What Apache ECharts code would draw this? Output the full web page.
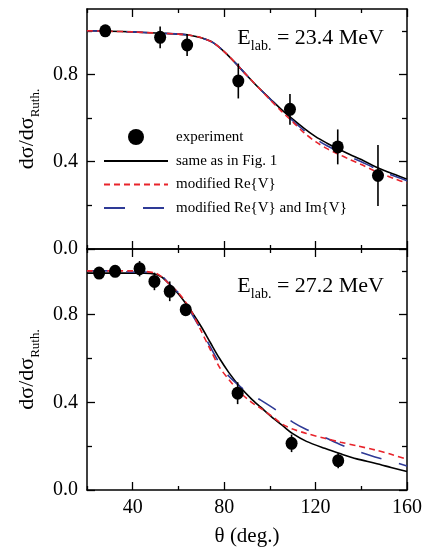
<!DOCTYPE html>
<html>
<head>
  <meta charset="UTF-8">
  <title>dσ/dσRuth</title>
  <script src="https://cdn.jsdelivr.net/npm/echarts@6/dist/echarts.min.js"></script>
  <style>
    html, body { margin: 0; padding: 0; background: #fff; }
  </style>
</head>
<body>
  <div id="chart" style="width: 429px; height: 557px;"></div>
  <script>
    // tick positions
    const xMajor = [40, 80, 120, 160];
    const xMinor = [20, 60, 100, 140];
    const yMajor = [0, 0.4, 0.8];
    const yMinor = [0.2, 0.6, 1.0];

    // upper panel, E = 23.4 MeV
    const thetaTop = [20, 30, 40, 50, 60, 65, 70, 75, 80, 85, 90, 95, 100, 105, 110, 115, 120, 125, 130, 135, 140, 145, 150, 155, 160];
    const sameTop  = [1.0, 0.998, 0.995, 0.99, 0.985, 0.98, 0.968, 0.947, 0.905, 0.852, 0.795, 0.74, 0.69, 0.64, 0.595, 0.553, 0.515, 0.485, 0.458, 0.433, 0.41, 0.383, 0.36, 0.34, 0.32];
    const reTop    = [1.0, 0.998, 0.995, 0.99, 0.985, 0.98, 0.968, 0.947, 0.905, 0.852, 0.795, 0.74, 0.685, 0.632, 0.583, 0.532, 0.492, 0.46, 0.435, 0.41, 0.387, 0.362, 0.34, 0.32, 0.302];
    const reImTop  = [1.0, 0.998, 0.995, 0.99, 0.985, 0.98, 0.968, 0.947, 0.905, 0.852, 0.795, 0.74, 0.688, 0.636, 0.588, 0.543, 0.505, 0.473, 0.447, 0.422, 0.4, 0.375, 0.352, 0.332, 0.313];
    const expTopTheta = [28, 52, 63.8, 86.2, 108.8, 129.7, 147.3];
    const expTopVal   = [1.0, 0.97, 0.935, 0.77, 0.64, 0.468, 0.337];
    const expTopErr   = [0.01, 0.05, 0.05, 0.08, 0.07, 0.08, 0.14];

    // lower panel, E = 27.2 MeV
    const thetaBot = [20, 30, 40, 45, 50, 53, 56, 60, 63, 66, 70, 74, 78, 82, 87, 92, 96, 102, 106, 110, 116, 124, 131, 138, 146, 153, 160];
    const sameBot  = [0.99, 0.99, 0.99, 0.99, 0.985, 0.97, 0.94, 0.895, 0.855, 0.81, 0.745, 0.672, 0.6, 0.537, 0.47, 0.415, 0.378, 0.323, 0.29, 0.257, 0.222, 0.19, 0.165, 0.142, 0.122, 0.103, 0.084];
    const reBot    = [1.0, 1.0, 1.0, 0.998, 0.99, 0.97, 0.94, 0.9, 0.86, 0.81, 0.725, 0.64, 0.56, 0.505, 0.445, 0.4, 0.373, 0.328, 0.297, 0.278, 0.258, 0.236, 0.218, 0.202, 0.183, 0.163, 0.14];
    const reImBot  = [1.0, 1.0, 0.995, 0.995, 0.99, 0.975, 0.94, 0.9, 0.858, 0.8, 0.73, 0.652, 0.578, 0.52, 0.472, 0.435, 0.41, 0.37, 0.34, 0.31, 0.276, 0.24, 0.207, 0.178, 0.151, 0.131, 0.11];
    const expBotTheta = [25.3, 32.3, 43, 49.5, 56.2, 63.2, 85.9, 109.5, 129.9];
    const expBotVal   = [0.99, 0.998, 1.01, 0.952, 0.907, 0.823, 0.442, 0.213, 0.134];
    const expBotErr   = [0.01, 0.01, 0.035, 0.04, 0.045, 0.02, 0.05, 0.04, 0.035];

    const FONT = '"Liberation Serif", "DejaVu Serif", serif';
    const RED = '#e8232b';
    const BLUE = '#2e3a96';
    const LINE_W = 1.6;

    const yName = 'dσ/dσ{sub|Ruth.}';
    const nameRich = { sub: { fontSize: 13, fontFamily: FONT, lineHeight: 30, verticalAlign: 'bottom', color: '#000' } };

    function xAxesFor(grid, showLabels) {
      const base = {
        type: 'value', gridIndex: grid, min: 20, max: 160,
        axisLine: { onZero: false, lineStyle: { color: '#000', width: 1.5 } },
        splitLine: { show: false }
      };
      const out = [];
      ['bottom', 'top'].forEach(pos => {
        out.push(Object.assign({}, base, {
          position: pos,
          axisTick: { inside: true, length: 4, customValues: xMinor, lineStyle: { color: '#000', width: 1.3 } },
          axisLabel: { show: false }
        }));
        const major = Object.assign({}, base, {
          position: pos,
          axisLine: { show: false, onZero: false },
          axisTick: { inside: true, length: 8, customValues: xMajor, lineStyle: { color: '#000', width: 1.3 } },
          axisLabel: { show: false }
        });
        if (pos === 'bottom' && showLabels) {
          major.axisLabel = { show: true, customValues: xMajor, margin: 8, fontFamily: FONT, fontSize: 20, color: '#000' };
          major.name = 'θ (deg.)';
          major.nameLocation = 'middle';
          major.nameGap = 36;
          major.nameTextStyle = { fontFamily: FONT, fontSize: 21, color: '#000' };
        }
        out.push(major);
      });
      return out;
    }

    function yAxesFor(grid) {
      const base = {
        type: 'value', gridIndex: grid, min: 0, max: 1.1,
        axisLine: { onZero: false, lineStyle: { color: '#000', width: 1.5 } },
        splitLine: { show: false }
      };
      const out = [];
      ['left', 'right'].forEach(pos => {
        out.push(Object.assign({}, base, {
          position: pos,
          axisTick: { inside: true, length: 5, customValues: yMinor, lineStyle: { color: '#000', width: 1.3 } },
          axisLabel: { show: false }
        }));
        const major = Object.assign({}, base, {
          position: pos,
          axisLine: { show: false, onZero: false },
          axisTick: { inside: true, length: 8, customValues: yMajor, lineStyle: { color: '#000', width: 1.3 } },
          axisLabel: { show: false }
        });
        if (pos === 'left') {
          major.axisLabel = {
            show: true, customValues: yMajor, margin: 9, fontFamily: FONT, fontSize: 20, color: '#000',
            formatter: v => v.toFixed(1)
          };
          major.name = yName;
          major.nameLocation = 'middle';
          major.nameRotate = 90;
          major.nameGap = 44;
          major.nameTextStyle = { fontFamily: FONT, fontSize: 22, color: '#000', rich: nameRich };
        }
        out.push(major);
      });
      return out;
    }

    function pairs(xs, ys) { return xs.map((x, i) => [x, ys[i]]); }

    function panelSeries(xi, yi, theta, same, re, reIm, eT, eV, eE) {
      return [
        {
          name: 'same as in Fig. 1', type: 'line', xAxisIndex: xi, yAxisIndex: yi,
          data: pairs(theta, same), smooth: 0.3, symbol: 'none',
          lineStyle: { color: '#000', width: LINE_W }, itemStyle: { color: '#000' }, z: 2
        },
        {
          name: 'modified Re{V} and Im{V}', type: 'line', xAxisIndex: xi, yAxisIndex: yi,
          data: pairs(theta, reIm), smooth: 0.3, symbol: 'none',
          lineStyle: { color: BLUE, width: LINE_W, type: [21, 18] }, itemStyle: { color: BLUE }, z: 3
        },
        {
          name: 'modified Re{V}', type: 'line', xAxisIndex: xi, yAxisIndex: yi,
          data: pairs(theta, re), smooth: 0.3, symbol: 'none',
          lineStyle: { color: RED, width: LINE_W, type: [6, 4] }, itemStyle: { color: RED }, z: 4
        },
        {
          name: 'errorbars', type: 'custom', xAxisIndex: xi, yAxisIndex: yi, silent: true,
          data: eT.map((t, i) => [t, eV[i] - eE[i], eV[i] + eE[i]]),
          encode: { x: 0, y: [1, 2] },
          renderItem: (params, api) => {
            const a = api.coord([api.value(0), api.value(1)]);
            const b = api.coord([api.value(0), api.value(2)]);
            return { type: 'line', shape: { x1: a[0], y1: a[1], x2: b[0], y2: b[1] }, style: { stroke: '#000', lineWidth: 1.6 } };
          },
          z: 5
        },
        {
          name: 'experiment', type: 'scatter', xAxisIndex: xi, yAxisIndex: yi,
          data: pairs(eT, eV), symbol: 'circle', symbolSize: [12, 13],
          itemStyle: { color: '#000', opacity: 1 }, z: 6
        }
      ];
    }

    const titleStyle = {
      fontFamily: FONT, fontSize: 22, fontWeight: 'normal', color: '#000',
      rich: { sub: { fontSize: 14, fontFamily: FONT, lineHeight: 30, verticalAlign: 'bottom', color: '#000' } }
    };

    // hide the symbol that the legend draws on top of line icons
    const noSymbol = { opacity: 0, borderWidth: 0 };

    const chart = echarts.init(document.getElementById('chart'));
    chart.setOption({
      animation: false,
      backgroundColor: '#fff',
      title: [
        { text: 'E{sub|lab.} = 23.4 MeV', right: 40, top: 18, textStyle: titleStyle },
        { text: 'E{sub|lab.} = 27.2 MeV', right: 40, top: 266, textStyle: titleStyle }
      ],
      legend: {
        data: [
          { name: 'experiment', icon: 'circle', itemStyle: { opacity: 1 } },
          { name: 'same as in Fig. 1', itemStyle: noSymbol },
          { name: 'modified Re{V}', itemStyle: noSymbol },
          { name: 'modified Re{V} and Im{V}', itemStyle: noSymbol }
        ],
        orient: 'vertical', left: 98, top: 124,
        itemWidth: 64, itemHeight: 16, itemGap: 8.5,
        selectedMode: false,
        textStyle: { fontFamily: FONT, fontSize: 15, color: '#000', padding: [0, 0, 0, 3] }
      },
      grid: [
        { left: 87, right: 22, top: 9, height: 240 },
        { left: 87, right: 22, top: 249, height: 241 }
      ],
      xAxis: xAxesFor(0, false).concat(xAxesFor(1, true)),
      yAxis: yAxesFor(0).concat(yAxesFor(1)),
      series: panelSeries(0, 0, thetaTop, sameTop, reTop, reImTop, expTopTheta, expTopVal, expTopErr)
        .concat(panelSeries(4, 4, thetaBot, sameBot, reBot, reImBot, expBotTheta, expBotVal, expBotErr))
    });
  </script>
</body>
</html>
